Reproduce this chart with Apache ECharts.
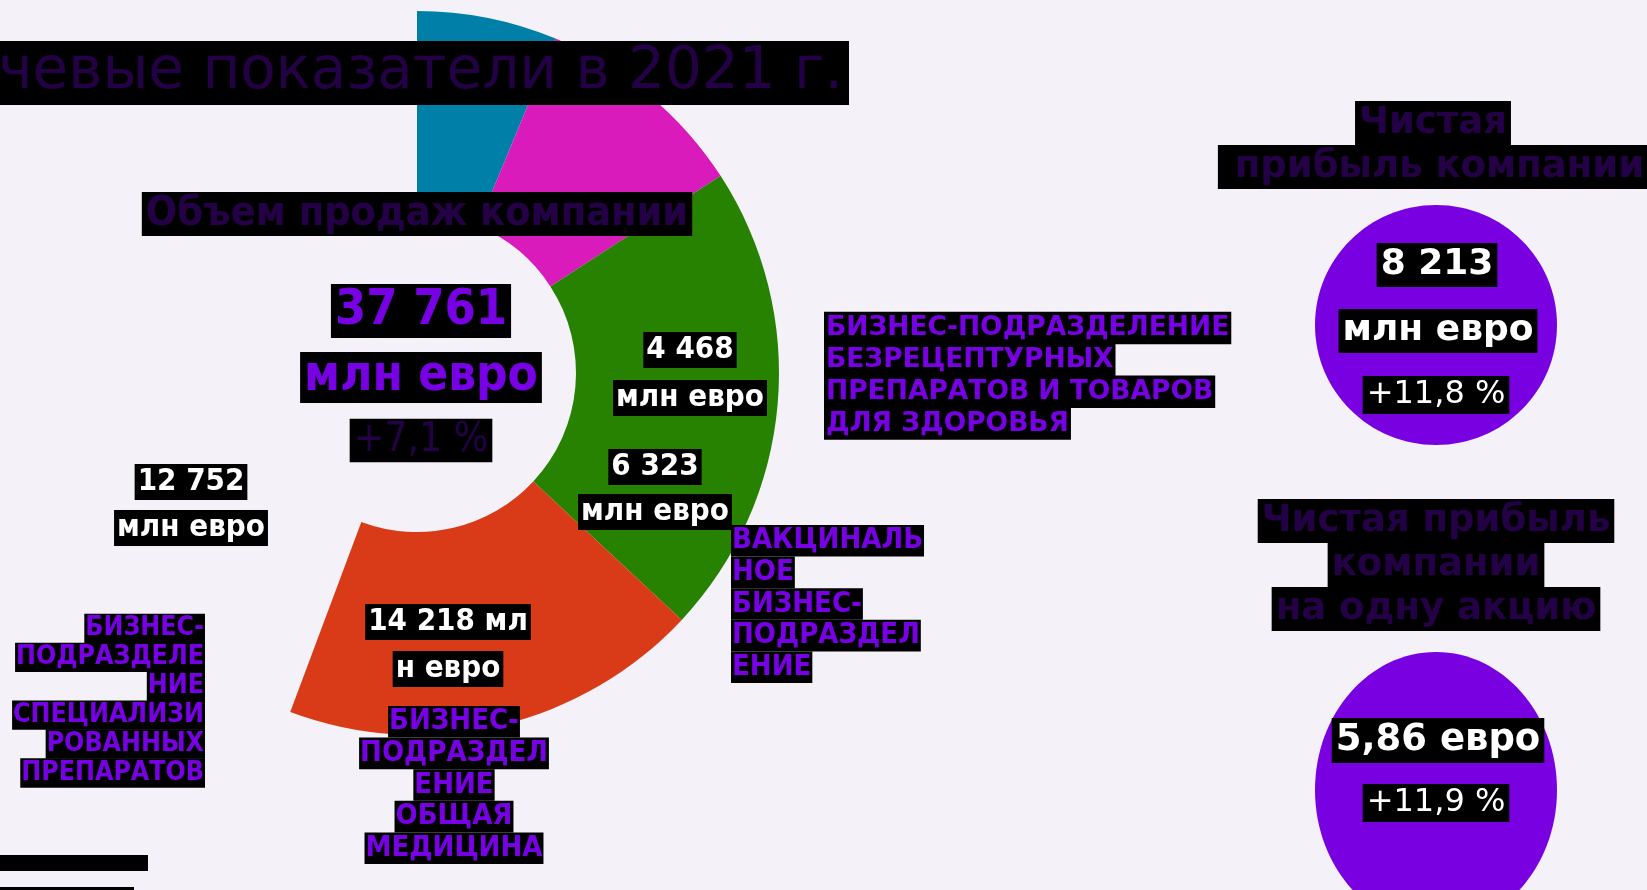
<!DOCTYPE html>
<html>
<head>
<meta charset="utf-8">
<title>Ключевые показатели в 2021 г.</title>
<script src="https://cdn.jsdelivr.net/npm/echarts@6/dist/echarts.min.js"></script>
<style>
  html, body { margin: 0; padding: 0; background: #f4f2f8; }
  #chart { width: 1647px; height: 890px; }
</style>
</head>
<body>
<div id="chart"></div>
<script>
// доли сегментов кольца (в градусах, как на картинке), последний — пустой
var sliceNames = ['blue', 'magenta', 'green', 'red', 'empty'];
var sliceValues = [22.5, 34.5, 76, 67.5, 159.5];
var sliceColors = ['#007fa9', '#d81bba', '#268200', '#d93b18', 'rgba(0,0,0,0)'];

var title = 'Ключевые показатели в 2021 г.';
var salesTitle = 'Объем продаж компании';
var salesTotal = ['37 761', 'млн евро', '+7,1 %'];
var segValues = [['4 468', 'млн евро'], ['6 323', 'млн евро'], ['12 752', 'млн евро'], ['14 218 мл', 'н евро']];
var segNames = [
  ['БИЗНЕС-ПОДРАЗДЕЛЕНИЕ', 'БЕЗРЕЦЕПТУРНЫХ', 'ПРЕПАРАТОВ И ТОВАРОВ', 'ДЛЯ ЗДОРОВЬЯ'],
  ['ВАКЦИНАЛЬ', 'НОЕ', 'БИЗНЕС-', 'ПОДРАЗДЕЛ', 'ЕНИЕ'],
  ['БИЗНЕС-', 'ПОДРАЗДЕЛЕ', 'НИЕ', 'СПЕЦИАЛИЗИ', 'РОВАННЫХ', 'ПРЕПАРАТОВ'],
  ['БИЗНЕС-', 'ПОДРАЗДЕЛ', 'ЕНИЕ', 'ОБЩАЯ', 'МЕДИЦИНА']
];
var profitTitle = ['Чистая', ' прибыль компании'];
var profitValue = ['8 213', 'млн евро', '+11,8 %'];
var epsTitle = ['Чистая прибыль', 'компании', 'на одну акцию'];
var epsValue = ['5,86 евро', '+11,9 %'];

var COND = "'DejaVu Sans Condensed', 'Liberation Sans Narrow', sans-serif";
var WIDE = "'DejaVu Sans', sans-serif";
var DARK = '#240046';
var PURPLE = '#7800e4';
var BUBBLE = '#7800e1';

// текст с чёрной подложкой на каждой строке
function block(x, top, lines, size, o) {
  var pad = o.pad || [2, 4, 2, 4];
  var boxH = size + pad[0] + pad[2];
  var lineH = o.lineH || boxH;
  return {
    type: 'text',
    x: x,
    y: top - (lineH - boxH) / 2,
    z: 10,
    silent: true,
    style: {
      text: lines.map(function (l) { return '{t|' + l + '}'; }).join('\n'),
      align: o.align || 'center',
      verticalAlign: 'top',
      rich: {
        t: {
          fontFamily: o.family || COND,
          fontSize: size,
          fontWeight: o.weight || 'bold',
          fill: o.color || '#fff',
          backgroundColor: '#000',
          padding: pad,
          lineHeight: lineH
        }
      }
    }
  };
}

var chart = echarts.init(document.getElementById('chart'));

var elements = [
  block(849, 41, [title], 58, {align: 'right', family: WIDE, weight: 'normal', color: DARK, pad: [3, 6, 3, 6]}),
  block(417, 192, [salesTitle], 41, {color: DARK, pad: [1.5, 4, 1.5, 4]}),
  block(421, 284, [salesTotal[0]], 50, {color: PURPLE}),
  block(421, 352, [salesTotal[1]], 49, {color: PURPLE, pad: [1, 4, 1, 4]}),
  block(421, 419, [salesTotal[2]], 40.5, {weight: 'normal', color: DARK, pad: [1.3, 4, 1.3, 4]}),

  block(690, 332, segValues[0], 31, {pad: [2, 3, 3, 3], lineH: 48}),
  block(655, 449, segValues[1], 31, {pad: [2, 3, 3, 3], lineH: 45}),
  block(191, 464, segValues[2], 31, {pad: [2, 3, 3, 3], lineH: 46}),
  block(448, 604, segValues[3], 31, {pad: [2, 3, 3, 3], lineH: 47}),

  block(824, 312, segNames[0], 26.5, {align: 'left', family: WIDE, color: PURPLE, pad: [2.7, 2, 2.7, 2]}),
  block(731, 525, segNames[1], 29, {align: 'left', color: PURPLE, pad: [1.3, 1, 1.3, 1]}),
  block(205, 614, segNames[2], 26.5, {align: 'right', color: PURPLE, pad: [1.2, 1, 1.2, 1]}),
  block(454, 706, segNames[3], 29, {color: PURPLE, pad: [1.3, 1, 1.3, 1]}),

  block(1433, 101, profitTitle, 37, {family: WIDE, color: DARK, pad: [3.5, 4, 3.5, 4]}),
  block(1436, 499, epsTitle, 37, {family: WIDE, color: DARK, pad: [3.5, 4, 3.5, 4]}),

  {type: 'ellipse', z: 5, silent: true, shape: {cx: 1436, cy: 325, rx: 121, ry: 120}, style: {fill: BUBBLE}},
  {type: 'ellipse', z: 5, silent: true, shape: {cx: 1436, cy: 790, rx: 121, ry: 138}, style: {fill: BUBBLE}},
  block(1437, 243, [profitValue[0]], 36, {family: WIDE, pad: [4, 4, 4, 4]}),
  block(1438, 309, [profitValue[1]], 36, {family: WIDE, pad: [4, 4, 4, 4]}),
  block(1436, 376, [profitValue[2]], 32, {family: WIDE, weight: 'normal', pad: [3, 4, 3, 4]}),
  block(1438, 718, [epsValue[0]], 37, {family: WIDE, pad: [4, 4, 4, 4]}),
  block(1436, 784, [epsValue[1]], 32, {family: WIDE, weight: 'normal', pad: [3, 4, 3, 4]}),

  {type: 'rect', z: 5, silent: true, shape: {x: 0, y: 855, width: 148, height: 16}, style: {fill: '#000'}},
  {type: 'rect', z: 5, silent: true, shape: {x: 0, y: 887, width: 134, height: 10}, style: {fill: '#000'}}
];

chart.setOption({
  backgroundColor: '#f4f2f8',
  animation: false,
  series: [{
    type: 'pie',
    center: [417, 373],
    radius: [159, 362],
    startAngle: 90,
    clockwise: true,
    silent: true,
    label: {show: false},
    labelLine: {show: false},
    data: sliceValues.map(function (v, i) {
      return {name: sliceNames[i], value: v, itemStyle: {color: sliceColors[i]}};
    })
  }],
  graphic: {elements: elements}
});
</script>
</body>
</html>
